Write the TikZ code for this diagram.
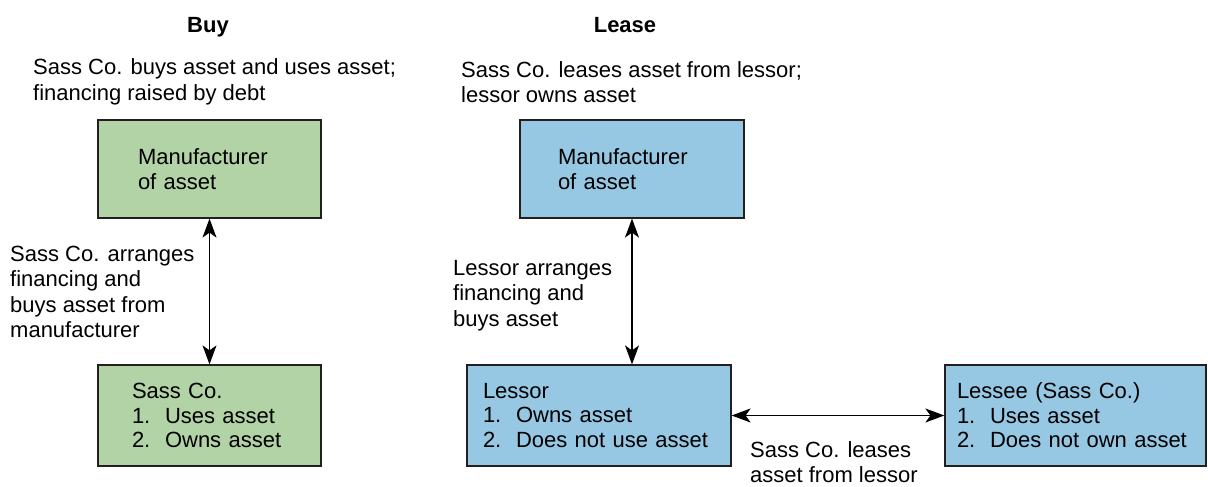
\documentclass[tikz,border=0pt]{standalone}
\usepackage{fontspec}
\setmainfont{Liberation Sans}
\usepackage{xcolor}
\usetikzlibrary{arrows.meta}
\definecolor{buygreen}{RGB}{178,211,165}
\definecolor{leaseblue}{RGB}{150,200,228}
\definecolor{edge}{RGB}{35,31,32}
\hyphenpenalty=10000
\begin{document}
\begin{tikzpicture}[x=1pt,y=1pt,
  font=\fontsize{22}{25.5}\selectfont,
  title/.style={anchor=base,font=\fontsize{22}{25.5}\selectfont\bfseries},
  box/.style={draw=edge,line width=1.2pt,align=left,inner ysep=0pt,font=\fontsize{22}{24.5}\selectfont},
  lbl/.style={inner sep=0pt,align=left,anchor=west},
  link/.style={line width=1.3pt,{Stealth[length=19pt,width=14pt,inset=5pt]}-{Stealth[length=19pt,width=14pt,inset=5pt]}}]
\useasboundingbox (0,0) rectangle (1208,487);
\node[title] (buy) at (208,454) {Buy};
\node[title] (lease) at (625,454) {Lease};
\node[lbl] (buytxt) at (33,405) {Sass Co. buys asset and uses asset;\\financing raised by debt};
\node[lbl] (leasetxt) at (461,405) {Sass Co. leases asset from lessor;\\lessor owns asset};
\node[box,fill=buygreen,inner xsep=40pt,text width=143pt,minimum height=98pt] (gmaker) at (209.5,318) {Manufacturer\\of asset};
\node[box,fill=buygreen,inner xsep=34pt,text width=155pt,minimum height=101pt] (sass) at (209.5,71.5) {Sass Co.\\1.\ \ Uses asset\\2.\ \ Owns asset};
\node[box,fill=leaseblue,inner xsep=38pt,text width=148pt,minimum height=98pt] (bmaker) at (632,318) {Manufacturer\\of asset};
\node[box,fill=leaseblue,inner xsep=16pt,text width=232pt,minimum height=101pt] (lessor) at (599,71.5) {Lessor\\1.\ \ Owns asset\\2.\ \ Does not use asset};
\node[box,fill=leaseblue,inner xsep=12pt,text width=237pt,minimum height=101pt] (lessee) at (1075.5,71.5) {Lessee (Sass Co.)\\1.\ \ Uses asset\\2.\ \ Does not own asset};
\draw[link] (gmaker.south) -- (sass.north);
\draw[link] (bmaker.south) -- (bmaker.south |- lessor.north);
\draw[link] (lessor.east) -- (lessee.west);
\node[lbl] (buyarr) at (10,195) {Sass Co. arranges\\financing and\\buys asset from\\manufacturer};
\node[lbl] (lessorarr) at (453,191.5) {Lessor arranges\\financing and\\buys asset};
\node[lbl] (leasearr) at (750,25) {Sass Co. leases\\asset from lessor};
\end{tikzpicture}
\end{document}
